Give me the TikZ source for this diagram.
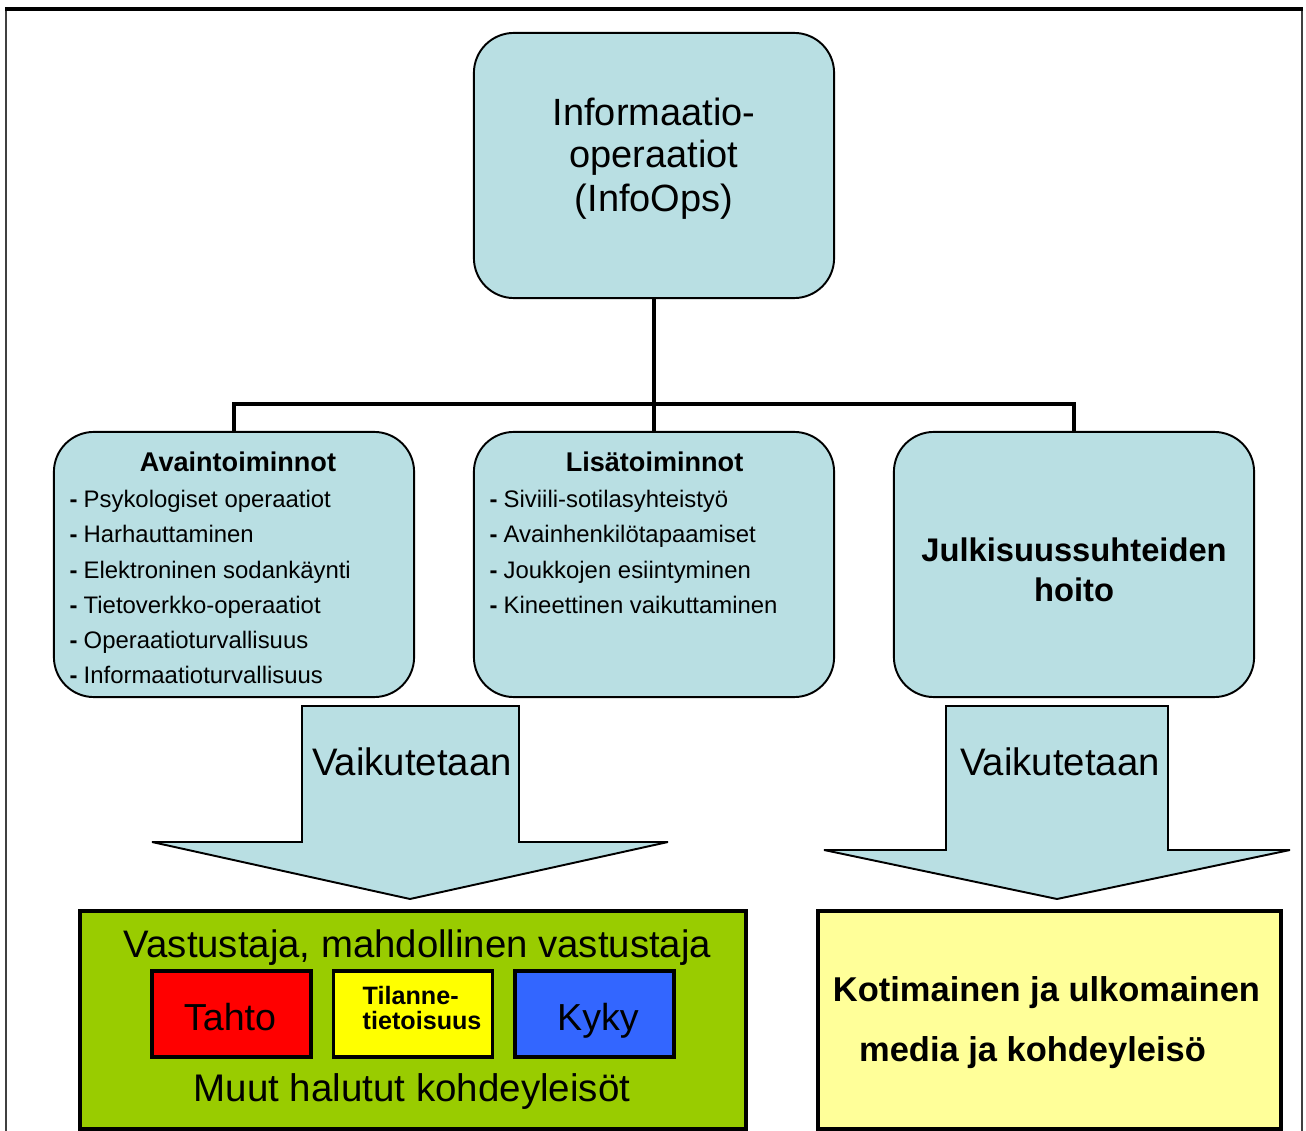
\documentclass[tikz,border=0pt]{standalone}
\usepackage{fontspec}
\setmainfont{Liberation Sans}
\definecolor{boxblue}{HTML}{B9DFE3}
\definecolor{grn}{HTML}{99CC00}
\definecolor{paleyel}{HTML}{FFFF99}
\definecolor{bred}{HTML}{FF0000}
\definecolor{byel}{HTML}{FFFF00}
\definecolor{bblue}{HTML}{3366FF}
\newcommand{\fsz}[1]{\fontsize{#1}{1.2\dimexpr #1\relax}\selectfont}
\newcommand{\dsh}{\textbf{-}\hspace{0.06cm}}
\begin{document}
\begin{tikzpicture}[x=0.01cm,y=-0.01cm,
  rbox/.style={draw=black,line width=0.55pt,fill=boxblue,rounded corners=0.4cm,minimum width=3.6cm,minimum height=2.65cm,inner sep=0pt},
  conn/.style={line width=1.4pt,black},
  txt/.style={inner sep=0pt,anchor=base},
  item/.style={inner sep=0pt,anchor=base west,font=\fsz{6.8pt}},
  ttl/.style={inner sep=0pt,anchor=base,font=\bfseries\fsz{7.7pt}},
  arrowshape/.style={draw=black,line width=0.55pt,fill=boxblue,miter limit=2.5},
  sqbox/.style={draw=black,line width=1.1pt,inner sep=0pt},
  cbox/.style={draw=black,line width=1pt,inner sep=0pt,minimum width=1.59cm,minimum height=0.86cm}
]
\useasboundingbox (0,0) rectangle (1306,1131);
\fill[white] (0,0) rectangle (1306,1131);
% outer frame
\draw[line width=0.6pt,black!75] (6,9) -- (6,1145);
\draw[line width=0.6pt,black!75] (1302,9) -- (1302,1145);
\draw[line width=1pt,black] (5,9) -- (1303,9);

% top box
\node[rbox] (top) at (654,165.5) {};
\node[txt,font=\fsz{10.8pt}] (t1) at (654,126) {Informaatio-};
\node[txt,font=\fsz{10.8pt}] (t2) at (654,168) {operaatiot};
\node[txt,font=\fsz{10.8pt}] (t3) at (654,212) {(InfoOps)};

% second row boxes
\node[rbox] (avain) at (234,564.5) {};
\node[rbox] (lisa) at (654,564.5) {};
\node[rbox] (julki) at (1074,564.5) {};

% connectors
\coordinate (junc) at (654,404);
\draw[conn] (top.south) -- (junc);
\draw[conn] (junc) -- (lisa.north);
\draw[conn] (avain.north) |- (junc) -| (julki.north);

% Avaintoiminnot
\node[ttl] (at) at (238,472) {Avaintoiminnot};
\node[item] (a1) at (69,507.5) {\dsh Psykologiset operaatiot};
\node[item] (a2) at (69,543) {\dsh Harhauttaminen};
\node[item] (a3) at (69,578.5) {\dsh Elektroninen sodankäynti};
\node[item] (a4) at (69,613.5) {\dsh Tietoverkko-operaatiot};
\node[item] (a5) at (69,649) {\dsh Operaatioturvallisuus};
\node[item] (a6) at (69,683.5) {\dsh Informaatioturvallisuus};

% Lisatoiminnot
\node[ttl] (lt) at (654.5,472) {Lisätoiminnot};
\node[item] (l1) at (489,507.5) {\dsh Siviili-sotilasyhteistyö};
\node[item] (l2) at (489,543) {\dsh Avainhenkilötapaamiset};
\node[item] (l3) at (489,578.5) {\dsh Joukkojen esiintyminen};
\node[item] (l4) at (489,613.5) {\dsh Kineettinen vaikuttaminen};

% Julkisuussuhteiden hoito
\node[txt,font=\bfseries\fsz{9.3pt}] (j1) at (1074,562) {Julkisuussuhteiden};
\node[txt,font=\bfseries\fsz{9.3pt}] (j2) at (1074,602) {hoito};

% arrows
\draw[arrowshape] (302,706) -- (519,706) -- (519,842) -- (668,842) -- (410,899) -- (152,842) -- (302,842) -- cycle;
\node[txt,font=\fsz{10.9pt}] (v1) at (412,775) {Vaikutetaan};
\draw[arrowshape] (946,706) -- (1168,706) -- (1168,850) -- (1290,850) -- (1057,899) -- (824,850) -- (946,850) -- cycle;
\node[txt,font=\fsz{10.9pt}] (v2) at (1060,775) {Vaikutetaan};

% green box
\node[sqbox,fill=grn,minimum width=6.66cm,minimum height=2.18cm] (green) at (413,1020) {};
\node[txt,font=\fsz{10.9pt}] (g1) at (417.5,957) {Vastustaja, mahdollinen vastustaja};
\node[cbox,fill=bred] (tahto) at (231.5,1014) {};
\node[cbox,fill=byel] (tilanne) at (413,1014) {};
\node[cbox,fill=bblue] (kyky) at (594.5,1014) {};
\node[txt,font=\fsz{10.7pt}] (tt) at (230,1030) {Tahto};
\node[txt,font=\fsz{10.7pt}] (kt) at (598,1030) {Kyky};
\node[inner sep=0pt,anchor=base west,font=\bfseries\fsz{7.15pt}] (ti1) at (362,1004) {Tilanne-};
\node[inner sep=0pt,anchor=base west,font=\bfseries\fsz{7.15pt}] (ti2) at (362,1029) {tietoisuus};
\node[txt,font=\fsz{10.95pt}] (g2) at (412,1101) {Muut halutut kohdeyleisöt};

% yellow box
\node[sqbox,fill=paleyel,minimum width=4.63cm,minimum height=2.18cm] (yel) at (1049.5,1020) {};
\node[txt,font=\bfseries\fsz{9.8pt}] (y1) at (1046.5,1001) {Kotimainen ja ulkomainen};
\node[txt,font=\bfseries\fsz{9.8pt}] (y2) at (1032.5,1061) {media ja kohdeyleisö};
\end{tikzpicture}
\end{document}
